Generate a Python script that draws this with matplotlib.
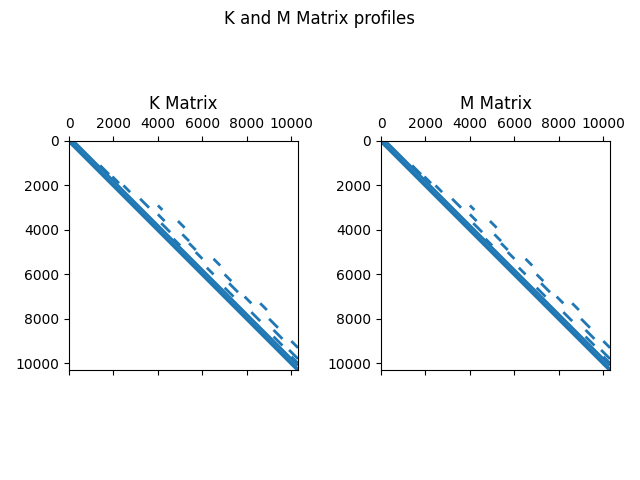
import matplotlib
matplotlib.use("Agg")
import matplotlib.pyplot as plt

# matrix size and profile segments (row start, row end, column offset from diagonal)
n = 10300
seg_start = [0, 0, 1100, 1600, 2000, 2600, 2900, 3300, 3600, 3700, 4200, 4400, 4600, 5000,
             5300, 5700, 6000, 6400, 6600, 7000, 7300, 7700, 8000, 8500, 8800, 9000, 9400, 9700]
seg_end = [10300, 10100, 1500, 1900, 2300, 3000, 3100, 3600, 3900, 4100, 4500, 4700, 4900, 5300,
           5600, 6000, 6300, 6800, 7000, 7300, 7600, 8100, 8400, 8900, 9200, 9300, 9800, 10100]
seg_offset = [0, 200, 300, 350, 450, 600, 1100, 700, 1300, 450, 900, 300, 800, 700,
              1200, 500, 1000, 800, 400, 900, 1300, 500, 1000, 700, 400, 1000, 500, 300]
seg_width = [2.8, 2.0] + [2.0] * (len(seg_start) - 2)
titles = ["K Matrix", "M Matrix"]
lefts = [69, 381]

fig = plt.figure(figsize=(6.4, 4.8), dpi=100)
fig.suptitle("K and M Matrix profiles")
for left, t in zip(lefts, titles):
    ax = fig.add_axes([left / 640, 1 - 370 / 480, 229 / 640, 229 / 480])
    for r0, r1, off, w in zip(seg_start, seg_end, seg_offset, seg_width):
        c0 = min(r0 + off, n)
        c1 = min(r1 + off, n)
        ax.plot([c0, c1], [r0, r0 + (c1 - c0)], color="#1f77b4", lw=w, solid_capstyle="butt")
    ax.set_xlim(0, n)
    ax.set_ylim(n, 0)
    ax.xaxis.tick_top()
    ax.tick_params(axis="x", bottom=True, labelbottom=False)
    ax.set_xticks([0, 2000, 4000, 6000, 8000, 10000])
    ax.set_yticks([0, 2000, 4000, 6000, 8000, 10000])
    ax.set_title(t)
fig.savefig("out.png")
